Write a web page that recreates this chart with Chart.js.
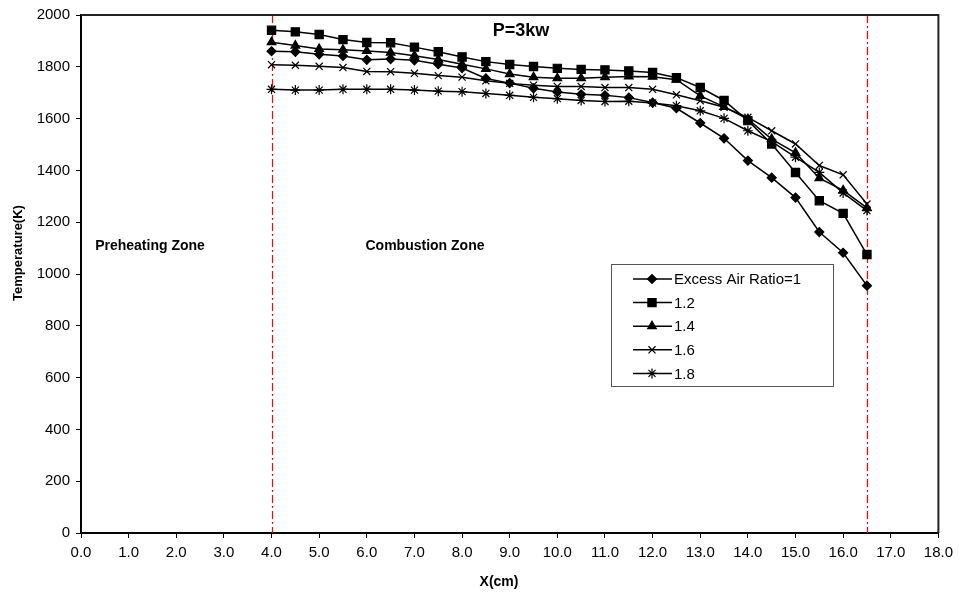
<!DOCTYPE html>
<html>
<head>
<meta charset="utf-8">
<script src="https://cdn.jsdelivr.net/npm/chart.js"></script>
<style>
  body { margin: 0; background: #fff; }
</style>
</head>
<body>
<canvas id="graficoTemperature" width="959" height="595"></canvas>
<script>
// positions along the burner (cm)
var xPos = [4.0, 4.5, 5.0, 5.5, 6.0, 6.5, 7.0, 7.5, 8.0, 8.5, 9.0, 9.5, 10.0,
            10.5, 11.0, 11.5, 12.0, 12.5, 13.0, 13.5, 14.0, 14.5, 15.0, 15.5, 16.0, 16.5];

// temperatures (K) for each excess air ratio
var ratio10 = [1860, 1858, 1848, 1842, 1827, 1830, 1825, 1810, 1795, 1755, 1737, 1717, 1703,
               1694, 1690, 1681, 1662, 1640, 1583, 1524, 1438, 1372, 1295, 1162, 1082, 955];
var ratio12 = [1941, 1935, 1925, 1905, 1894, 1893, 1876, 1858, 1838, 1820, 1809, 1801, 1794,
               1790, 1788, 1784, 1778, 1758, 1720, 1670, 1592, 1502, 1392, 1283, 1234, 1075];
var ratio14 = [1895, 1882, 1869, 1866, 1861, 1855, 1843, 1828, 1810, 1792, 1772, 1760, 1756,
               1756, 1760, 1763, 1762, 1750, 1688, 1645, 1598, 1521, 1468, 1370, 1323, 1255];
var ratio16 = [1808, 1806, 1802, 1797, 1782, 1781, 1775, 1766, 1760, 1746, 1736, 1729, 1724,
               1724, 1720, 1720, 1713, 1692, 1669, 1644, 1605, 1553, 1502, 1419, 1383, 1270];
var ratio18 = [1713, 1710, 1710, 1713, 1713, 1713, 1710, 1706, 1704, 1697, 1690, 1682, 1677,
               1670, 1666, 1667, 1660, 1650, 1630, 1601, 1553, 1511, 1451, 1392, 1313, 1245];

var serieLabels = ['Excess Air Ratio=1', '1.2', '1.4', '1.6', '1.8'];
var zoneLines = [4.0, 16.5];

var fontNormal = '"Liberation Sans", Arial, sans-serif';

function punti(valori){
  var out = [];
  for(var i=0;i<xPos.length;i++){
    out.push({x: xPos[i], y: valori[i]});
  }
  return out;
}

function serie(label, valori, stile, raggio){
  return {
    label: label,
    data: punti(valori),
    showLine: true,
    borderColor: '#000',
    backgroundColor: '#000',
    borderWidth: 1.5,
    pointStyle: stile,
    pointRadius: raggio,
    pointBorderWidth: 1.2,
    pointBackgroundColor: '#000',
    pointBorderColor: '#000',
    tension: 0
  };
}

// frame, zone lines, texts and legend box
const decorazioni = {
  id: 'decorazioni',
  beforeDatasetsDraw(chart){
    const ctx = chart.ctx;
    const area = chart.chartArea;
    const xs = chart.scales.x;
    ctx.save();
    ctx.strokeStyle = '#ff0000';
    ctx.lineWidth = 1.2;
    ctx.setLineDash([8, 3, 2, 3]);
    zoneLines.forEach(function(v){
      const px = Math.round(xs.getPixelForValue(v)) + 0.5;
      ctx.beginPath();
      ctx.moveTo(px, area.top);
      ctx.lineTo(px, area.bottom);
      ctx.stroke();
    });
    ctx.restore();
  },
  afterDraw(chart){
    const ctx = chart.ctx;
    const area = chart.chartArea;
    ctx.save();
    // top and right frame
    ctx.strokeStyle = '#222';
    ctx.lineWidth = 2;
    ctx.beginPath();
    ctx.moveTo(area.left, area.top);
    ctx.lineTo(area.right, area.top);
    ctx.lineTo(area.right, area.bottom);
    ctx.stroke();

    ctx.fillStyle = '#000';
    ctx.textAlign = 'center';
    ctx.textBaseline = 'middle';
    ctx.font = 'bold 18px ' + fontNormal;
    ctx.fillText('P=3kw', 521, 31);
    ctx.font = 'bold 14px ' + fontNormal;
    ctx.fillText('Preheating Zone', 150, 246);
    ctx.fillText('Combustion Zone', 425, 246);

    // axis titles
    ctx.fillText('X(cm)', 499, 582);
    ctx.save();
    ctx.translate(18, 253);
    ctx.rotate(-Math.PI / 2);
    ctx.font = 'bold 13px ' + fontNormal;
    ctx.fillText('Temperature(K)', 0, 0);
    ctx.restore();

    // legend
    const lx = 611, ly = 264, lw = 222, lh = 122;
    ctx.fillStyle = '#fff';
    ctx.fillRect(lx, ly, lw, lh);
    ctx.strokeStyle = '#555';
    ctx.lineWidth = 1;
    ctx.strokeRect(lx + 0.5, ly + 0.5, lw, lh);
    ctx.font = '15px ' + fontNormal;
    ctx.textAlign = 'left';
    chart.data.datasets.forEach(function(ds, i){
      const y = 279 + i * 23.6;
      ctx.strokeStyle = '#000';
      ctx.lineWidth = 1.5;
      ctx.beginPath();
      ctx.moveTo(633, y);
      ctx.lineTo(672, y);
      ctx.stroke();
      ctx.fillStyle = '#000';
      ctx.lineWidth = 1.2;
      if (Chart.helpers && Chart.helpers.drawPoint) {
        Chart.helpers.drawPoint(ctx, {pointStyle: ds.pointStyle, radius: ds.pointRadius, rotation: 0, borderWidth: 1.2}, 652, y);
      }
      ctx.fillStyle = '#000';
      ctx.fillText(ds.label, 674, y + 1);
    });
    ctx.restore();
  }
};

var oggettoGrafico;

function init(){
  const data = {
    datasets: [
      serie(serieLabels[0], ratio10, 'rectRot', 4.5),
      serie(serieLabels[1], ratio12, 'rect', 5.8),
      serie(serieLabels[2], ratio14, 'triangle', 5),
      serie(serieLabels[3], ratio16, 'crossRot', 5),
      serie(serieLabels[4], ratio18, 'star', 5)
    ]
  };

  const config = {
    type: 'scatter',
    data: data,
    options: {
      responsive: false,
      animation: false,
      layout: { padding: { top: 12, right: 19, left: 0, bottom: 0 } },
      plugins: {
        legend: { display: false },
        tooltip: { enabled: false }
      },
      scales: {
        x: {
          type: 'linear',
          min: 0,
          max: 18,
          afterFit: function(scale){ scale.height = 62; },
          ticks: {
            stepSize: 1,
            color: '#000',
            font: { family: fontNormal, size: 15 },
            padding: 6,
            maxRotation: 0,
            callback: function(v){ return v.toFixed(1); }
          },
          grid: { drawOnChartArea: false, drawTicks: true, tickLength: 5, color: '#000' },
          border: { color: '#000', width: 2 }
        },
        y: {
          min: 0,
          max: 2000,
          afterFit: function(scale){ scale.width = 81; },
          ticks: {
            stepSize: 200,
            color: '#000',
            font: { family: fontNormal, size: 15 },
            padding: 6,
            callback: function(v){ return String(v); }
          },
          grid: { drawOnChartArea: false, drawTicks: true, tickLength: 5, color: '#000' },
          border: { color: '#000', width: 2 }
        }
      }
    },
    plugins: [decorazioni]
  };

  oggettoGrafico = new Chart(
    document.getElementById('graficoTemperature'),
    config
  );
}

init();
</script>
</body>
</html>
